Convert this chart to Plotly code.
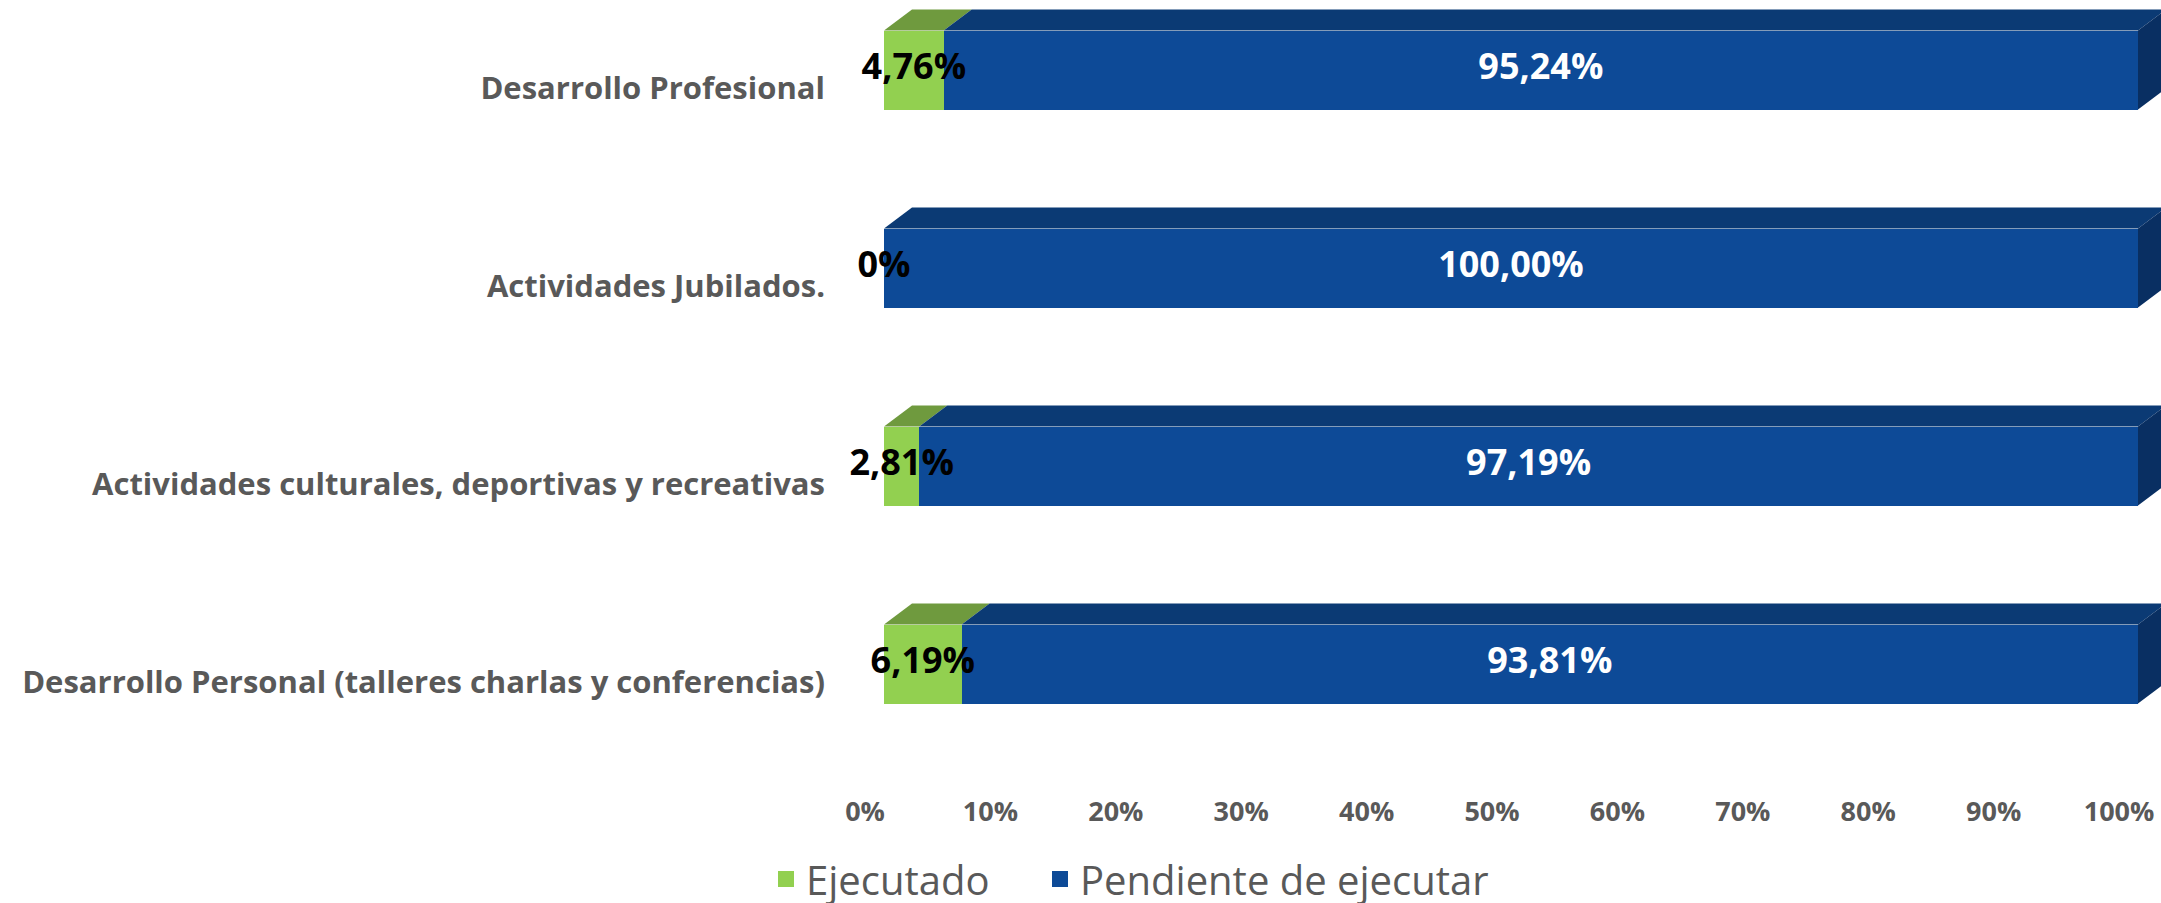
import plotly.graph_objects as go

# ---------------- data ----------------
categories = [
    "Desarrollo Personal (talleres charlas y conferencias)",
    "Actividades culturales, deportivas y recreativas",
    "Actividades Jubilados.",
    "Desarrollo Profesional",
]
ejecutado = [6.19, 2.81, 0.0, 4.76]
pendiente = [93.81, 97.19, 100.0, 95.24]
series_names = ["Ejecutado", "Pendiente de ejecutar"]
x_tick_vals = [0, 10, 20, 30, 40, 50, 60, 70, 80, 90, 100]
x_tick_text = ["0%", "10%", "20%", "30%", "40%", "50%", "60%", "70%", "80%", "90%", "100%"]

# ---------------- styling / geometry ----------------
W, H = 2161, 930                          # taller than window so legend is not clipped
PLOT_BOTTOM = 780
PL, PR, PT, PB = 850, 0, 0, H - PLOT_BOTTOM
PX_X = 12.54                              # px per percent
PX_Y = 198.0                              # px per category step
X0_PIX = 884                              # pixel of 0 %
Y3_PIX = 70                               # pixel of top category centre
plot_w = W - PL - PR
plot_h = H - PT - PB
x_min = -(X0_PIX - PL) / PX_X
x_max = x_min + plot_w / PX_X
y_max = 3 + (Y3_PIX - PT) / PX_Y
y_min = y_max - plot_h / PX_Y
TICK_SHIFT = 19 / PX_X                    # tick labels sit 19px left of bars

DX = 28 / PX_X
DY = 21 / PX_Y
BARW = 79 / PX_Y

GREEN, GREEN_TOP = "#92D050", "#6F9A3E"
BLUE, BLUE_TOP, BLUE_SIDE = "#0D4A97", "#0B3A74", "#092F62"
GRAY = "#595959"
FONT = "Open Sans"

ypos = list(range(len(categories)))

def fmt(v):
    return "0%" if v == 0 else f"{v:.2f}".replace(".", ",") + "%"

fig = go.Figure()

# front faces
fig.add_trace(go.Bar(y=ypos, x=ejecutado, orientation="h", width=BARW,
                     marker=dict(color=GREEN, line=dict(width=0)),
                     name=series_names[0], showlegend=False, hoverinfo="skip"))
fig.add_trace(go.Bar(y=ypos, x=pendiente, orientation="h", width=BARW,
                     marker=dict(color=BLUE, line=dict(width=0)),
                     name=series_names[1], showlegend=False, hoverinfo="skip"))

# top faces & side face
def top_faces(starts, ends):
    xs, ys = [], []
    for yc, a, b in zip(ypos, starts, ends):
        if b - a <= 0:
            continue
        yt = yc + BARW / 2
        xs += [a, a + DX, b + DX, b, a, None]
        ys += [yt, yt + DY, yt + DY, yt, yt, None]
    return xs, ys

gx, gy = top_faces([0] * len(ejecutado), ejecutado)
bx, by = top_faces(ejecutado, [e + p for e, p in zip(ejecutado, pendiente)])
fig.add_trace(go.Scatter(x=gx, y=gy, mode="lines", fill="toself", fillcolor=GREEN_TOP,
                         line=dict(width=0), showlegend=False, hoverinfo="skip"))
fig.add_trace(go.Scatter(x=bx, y=by, mode="lines", fill="toself", fillcolor=BLUE_TOP,
                         line=dict(width=0), showlegend=False, hoverinfo="skip"))
sx, sy = [], []
for yc, e, p in zip(ypos, ejecutado, pendiente):
    b = e + p
    yb, yt = yc - BARW / 2, yc + BARW / 2
    sx += [b, b + DX, b + DX, b, b, None]
    sy += [yb, yb + DY, yt + DY, yt, yb, None]
fig.add_trace(go.Scatter(x=sx, y=sy, mode="lines", fill="toself", fillcolor=BLUE_SIDE,
                         line=dict(width=0), showlegend=False, hoverinfo="skip"))

# value labels
fig.add_trace(go.Scatter(x=[e / 2 for e in ejecutado], y=ypos, mode="text",
                         text=[fmt(v) for v in ejecutado],
                         textfont=dict(family=FONT, size=36, color="black", weight="bold"),
                         showlegend=False, hoverinfo="skip", cliponaxis=False))
fig.add_trace(go.Scatter(x=[e + p / 2 for e, p in zip(ejecutado, pendiente)], y=ypos, mode="text",
                         text=[fmt(v) for v in pendiente],
                         textfont=dict(family=FONT, size=36, color="white", weight="bold"),
                         showlegend=False, hoverinfo="skip", cliponaxis=False))

# legend entries (one legend each so their spacing can follow the reference)
for nm, col, lg in zip(series_names, [GREEN, BLUE], ["legend", "legend2"]):
    fig.add_trace(go.Scatter(x=[None], y=[None], mode="markers", name=nm, legend=lg,
                             marker=dict(symbol="square", size=16, color=col)))

# invisible trace for tick axis
fig.add_trace(go.Scatter(x=[0, 100], y=[None, None], xaxis="x2", mode="markers",
                         showlegend=False, hoverinfo="skip"))

LEG_Y = -(879 - PLOT_BOTTOM) / plot_h
leg_common = dict(orientation="h", xanchor="left", y=LEG_Y, yanchor="middle",
                  bgcolor="rgba(0,0,0,0)", font=dict(family=FONT, size=40, color=GRAY))

fig.update_layout(
    width=W, height=H,
    margin=dict(l=PL, r=PR, t=PT, b=PB, autoexpand=False),
    paper_bgcolor="white", plot_bgcolor="white",
    barmode="stack", bargap=0,
    xaxis=dict(range=[x_min, x_max], visible=False, fixedrange=True),
    xaxis2=dict(range=[x_min + TICK_SHIFT, x_max + TICK_SHIFT], overlaying="x",
                side="bottom", anchor="y", tickvals=x_tick_vals, ticktext=x_tick_text,
                showgrid=False, zeroline=False, showline=False, ticks="",
                ticklabelstandoff=13, automargin=False,
                tickfont=dict(family=FONT, size=27, color=GRAY, weight="bold")),
    yaxis=dict(range=[y_min, y_max], tickvals=[y - 0.09 for y in ypos], ticktext=categories,
               showgrid=False, zeroline=False, showline=False, ticks="",
               ticklabelstandoff=24, automargin=False,
               tickfont=dict(family=FONT, size=31, color=GRAY, weight="bold")),
    legend=dict(x=(766 - PL) / plot_w, **leg_common),
    legend2=dict(x=(1040 - PL) / plot_w, **leg_common),
)

fig.write_html("out.html", config={"displayModeBar": False},
               post_script="document.body.style.margin='0px';document.body.style.overflow='hidden';")
